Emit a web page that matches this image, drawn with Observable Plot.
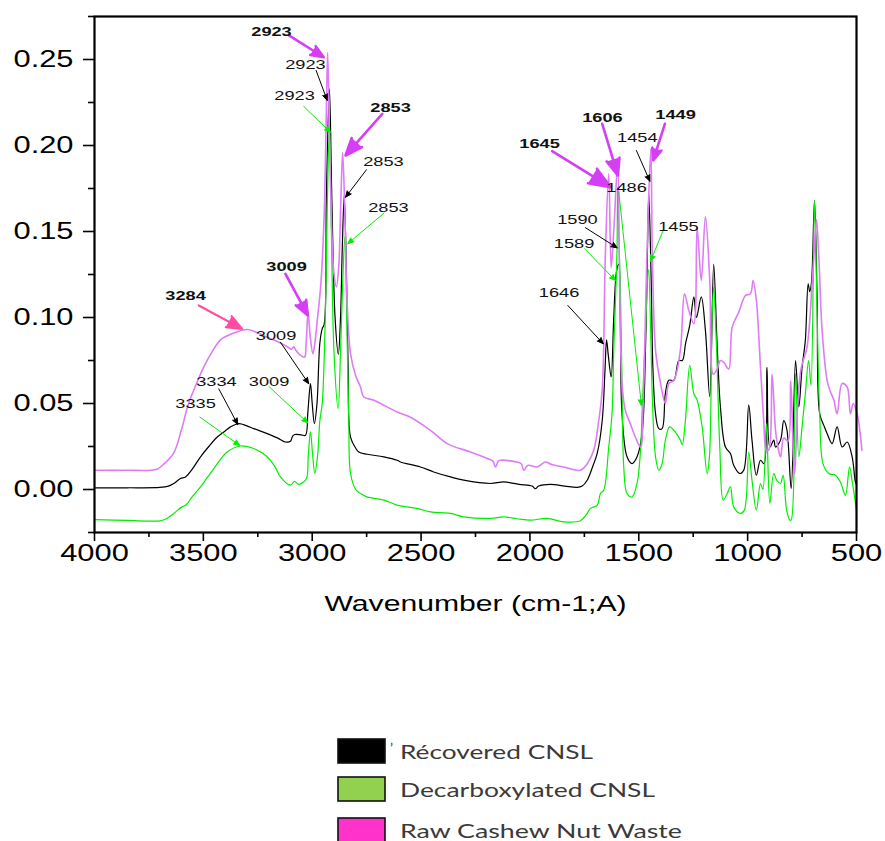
<!DOCTYPE html>
<html>
<head>
<meta charset="utf-8">
<script src="https://cdn.jsdelivr.net/npm/d3@7"></script>
<script src="https://cdn.jsdelivr.net/npm/@observablehq/plot@0.6"></script>
<style>
  html, body { margin: 0; padding: 0; background: #fff; }
  #page { position: relative; width: 885px; height: 841px; overflow: hidden; background: #fff; }
  #chart { position: absolute; left: 0; top: 0; }
  #legend { position: absolute; left: 0; top: 0; }
</style>
</head>
<body>
<div id="page"><div id="chart"></div><svg id="legend" width="885" height="841"></svg></div>
<script>
// ---------------- DATA ----------------
const seriesNames = ["Récovered CNSL", "Decarboxylated CNSL", "Raw Cashew Nut Waste"];

// [wavenumber cm-1, absorbance]
const recovered = [[4000,0.001],[3850,0.001],[3700,0.0012],[3660,0.002],[3636,0.0035],[3605,0.0064],[3582,0.0073],[3550,0.012],[3513,0.019],[3475,0.025],[3436,0.0305],[3400,0.034],[3375,0.0364],[3337,0.0383],[3300,0.037],[3268,0.0354],[3207,0.0325],[3160,0.030],[3123,0.0276],[3100,0.028],[3090,0.031],[3080,0.032],[3050,0.0318],[3031,0.0315],[3020,0.045],[3008,0.0616],[3000,0.05],[2990,0.0383],[2978,0.05],[2965,0.085],[2954,0.0935],[2945,0.096],[2935,0.17],[2921,0.233],[2910,0.17],[2895,0.1],[2880,0.0786],[2870,0.1],[2862,0.14],[2853,0.171],[2842,0.12],[2835,0.07],[2824,0.0305],[2800,0.024],[2786,0.0218],[2748,0.0205],[2671,0.019],[2610,0.017],[2595,0.016],[2503,0.0131],[2442,0.0102],[2365,0.0073],[2304,0.0054],[2181,0.0035],[2120,0.0044],[2050,0.003],[1990,0.002],[1975,0.0005],[1960,0.002],[1906,0.003],[1840,0.002],[1783,0.0012],[1760,0.002],[1737,0.0054],[1710,0.014],[1691,0.021],[1668,0.040],[1655,0.07],[1648,0.087],[1640,0.078],[1627,0.0654],[1615,0.1],[1602,0.127],[1592,0.131],[1585,0.1],[1577,0.044],[1554,0.019],[1531,0.015],[1508,0.019],[1485,0.0325],[1469,0.083],[1460,0.14],[1454,0.172],[1443,0.1215],[1435,0.07],[1423,0.044],[1408,0.0354],[1393,0.0354],[1378,0.0557],[1362,0.0635],[1339,0.0635],[1316,0.075],[1300,0.075],[1285,0.085],[1266,0.0954],[1247,0.112],[1235,0.100],[1213,0.112],[1194,0.0925],[1174,0.054],[1156,0.131],[1141,0.0867],[1125,0.048],[1102,0.0247],[1079,0.0209],[1064,0.0141],[1036,0.0093],[1018,0.0112],[995,0.049],[980,0.0287],[960,0.0083],[941,0.017],[925,0.015],[911,0.071],[898,0.0247],[880,0.0287],[872,0.0247],[849,0.0287],[834,0.040],[820,0.035],[800,0.0006],[780,0.075],[765,0.048],[750,0.071],[735,0.0867],[722,0.1196],[715,0.115],[707,0.12],[693,0.168],[681,0.112],[669,0.044],[650,0.0373],[635,0.0325],[612,0.0267],[589,0.0364],[566,0.0247],[543,0.0276],[520,0.019],[505,0.0044],[500,0.003]];

const decarboxylated = [[4000,-0.0175],[3850,-0.018],[3697,-0.0182],[3670,-0.017],[3636,-0.0139],[3598,-0.0101],[3580,-0.009],[3550,-0.004],[3513,0.0015],[3452,0.0122],[3391,0.0218],[3329,0.0253],[3268,0.0238],[3207,0.019],[3170,0.013],[3146,0.0073],[3100,0.0025],[3081,0.0048],[3065,0.003],[3046,0.0038],[3026,0.0064],[3018,0.02],[3008,0.0335],[2998,0.02],[2988,0.0093],[2975,0.02],[2965,0.04],[2954,0.050],[2940,0.1],[2930,0.17],[2921,0.212],[2912,0.15],[2900,0.08],[2881,0.047],[2870,0.08],[2860,0.12],[2850,0.147],[2840,0.09],[2832,0.04],[2824,0.0093],[2800,0.0],[2778,-0.0023],[2748,-0.0043],[2671,-0.0062],[2610,-0.0091],[2518,-0.011],[2457,-0.013],[2365,-0.0139],[2304,-0.0159],[2181,-0.0168],[2120,-0.0159],[2060,-0.017],[1997,-0.0178],[1921,-0.0168],[1845,-0.0188],[1768,-0.0182],[1737,-0.0139],[1722,-0.011],[1691,-0.0091],[1676,-0.0023],[1661,-0.0004],[1638,0.0247],[1623,0.044],[1615,0.081],[1607,0.11],[1600,0.14],[1597,0.176],[1590,0.14],[1585,0.1196],[1577,0.0616],[1569,0.0131],[1554,-0.0023],[1531,-0.0043],[1508,0.0035],[1492,0.0228],[1485,0.044],[1470,0.09],[1455,0.128],[1445,0.09],[1438,0.054],[1423,0.019],[1408,0.0112],[1393,0.015],[1378,0.0286],[1358,0.0364],[1330,0.033],[1309,0.0287],[1300,0.026],[1286,0.040],[1266,0.0722],[1247,0.0557],[1232,0.052],[1209,0.0364],[1186,0.0093],[1175,0.02],[1163,0.102],[1156,0.1177],[1143,0.0828],[1128,0.0247],[1112,-0.0062],[1094,-0.0023],[1079,0.0015],[1064,-0.0101],[1033,-0.0139],[1015,-0.012],[995,0.0218],[980,0.0054],[960,-0.012],[941,0.0035],[930,0.0],[914,0.0383],[898,-0.0081],[880,0.0093],[865,0.005],[849,0.0035],[837,0.0083],[821,-0.012],[806,-0.0178],[800,-0.0178],[780,0.0674],[765,0.019],[750,0.0364],[735,0.0557],[720,0.075],[709,0.0606],[693,0.168],[681,0.102],[669,0.044],[654,0.015],[628,0.0093],[597,0.0083],[574,0.0044],[551,-0.0033],[532,0.0131],[520,0.005],[500,-0.012]];

const rawWaste = [[4000,0.0112],[3850,0.0112],[3713,0.0118],[3680,0.015],[3637,0.021],[3600,0.035],[3568,0.050],[3530,0.062],[3499,0.071],[3460,0.080],[3421,0.087],[3360,0.091],[3297,0.093],[3250,0.091],[3206,0.0885],[3160,0.086],[3114,0.083],[3095,0.0815],[3085,0.083],[3075,0.081],[3054,0.078],[3035,0.077],[3028,0.085],[3019,0.103],[3010,0.09],[2997,0.079],[2988,0.085],[2977,0.098],[2960,0.12],[2945,0.16],[2935,0.22],[2929,0.254],[2920,0.2],[2910,0.15],[2900,0.125],[2889,0.1177],[2878,0.13],[2868,0.17],[2860,0.196],[2850,0.16],[2840,0.11],[2824,0.079],[2800,0.066],[2778,0.0596],[2763,0.0538],[2719,0.052],[2686,0.05],[2610,0.045],[2549,0.042],[2457,0.0344],[2380,0.0267],[2273,0.0218],[2196,0.018],[2170,0.0165],[2158,0.0131],[2145,0.0165],[2135,0.017],[2059,0.016],[2040,0.015],[2028,0.0112],[2010,0.014],[1967,0.0131],[1929,0.016],[1900,0.0145],[1845,0.0131],[1768,0.0112],[1737,0.015],[1707,0.0228],[1684,0.040],[1668,0.0577],[1653,0.139],[1638,0.1835],[1627,0.129],[1615,0.15],[1597,0.189],[1588,0.1196],[1577,0.0616],[1562,0.046],[1539,0.0383],[1516,0.0305],[1492,0.0247],[1480,0.05],[1462,0.139],[1445,0.198],[1438,0.139],[1423,0.081],[1400,0.0616],[1378,0.050],[1362,0.0616],[1339,0.0635],[1309,0.081],[1290,0.1138],[1270,0.104],[1247,0.0964],[1232,0.1525],[1213,0.1215],[1194,0.1587],[1174,0.1215],[1158,0.067],[1140,0.07],[1125,0.075],[1110,0.074],[1087,0.070],[1071,0.0944],[1041,0.103],[1010,0.1128],[987,0.1138],[975,0.1215],[960,0.110],[941,0.071],[926,0.040],[914,0.0228],[903,0.023],[888,0.067],[872,0.0345],[860,0.024],[849,0.019],[834,0.030],[815,0.028],[802,0.063],[790,0.02],[784,0.009],[770,0.05],[755,0.07],[727,0.083],[704,0.1196],[696,0.135],[684,0.157],[673,0.135],[658,0.0925],[635,0.0635],[620,0.057],[604,0.052],[589,0.044],[566,0.0616],[543,0.0596],[528,0.044],[515,0.050],[497,0.044],[475,0.0228]];

// axis ticks
const xMajor = [4000, 3500, 3000, 2500, 2000, 1500, 1000, 500];
const xMinor = [3750, 3250, 2750, 2250, 1750, 1250, 750];
const yMajor = [0, 0.05, 0.10, 0.15, 0.20, 0.25];
const yMinor = [-0.025, 0.025, 0.075, 0.125, 0.175, 0.225, 0.275];
const xTitle = ["Wavenumber (cm-1;A)"];

// peak annotations (label position x,y ; arrow from x1,y1 to tip x2,y2), in data units
const boldNotes = [
  {text: "2923", x: 3187, y: 0.2663, x1: 3107, y1: 0.2640, x2: 2947, y2: 0.2513},
  {text: "2853", x: 2640, y: 0.2221, x1: 2678, y1: 0.2184, x2: 2847, y2: 0.1942},
  {text: "3009", x: 3118, y: 0.1297, x1: 3123, y1: 0.1254, x2: 3020, y2: 0.1012},
  {text: "1645", x: 1956, y: 0.2012, x1: 1898, y1: 0.1967, x2: 1630, y2: 0.1758},
  {text: "1606", x: 1667, y: 0.2163, x1: 1668, y1: 0.2126, x2: 1596, y2: 0.1826},
  {text: "1449", x: 1331, y: 0.2180, x1: 1380, y1: 0.2126, x2: 1434, y2: 0.1913}
];
const pinkNotes = [
  {text: "3284", x: 3582, y: 0.1128, x1: 3521, y1: 0.1070, x2: 3322, y2: 0.0934}
];
const blackNotes = [
  {text: "2923", x: 3031, y: 0.2471, x1: 2982, y1: 0.2436, x2: 2931, y2: 0.2262},
  {text: "2853", x: 2673, y: 0.1907, x1: 2751, y1: 0.1859, x2: 2847, y2: 0.1699},
  {text: "3009", x: 3166, y: 0.0895, x1: 3146, y1: 0.0856, x2: 3016, y2: 0.0615},
  {text: "3334", x: 3440, y: 0.0624, x1: 3429, y1: 0.0585, x2: 3342, y2: 0.0378},
  {text: "1646", x: 1866, y: 0.1142, x1: 1826, y1: 0.1070, x2: 1663, y2: 0.0847},
  {text: "1590", x: 1782, y: 0.1567, x1: 1745, y1: 0.1522, x2: 1599, y2: 0.1405},
  {text: "1454", x: 1507, y: 0.2044, x1: 1511, y1: 0.1971, x2: 1449, y2: 0.1792}
];
const greenNotes = [
  {text: "2923", x: 3081, y: 0.2291, x1: 3039, y1: 0.2227, x2: 2916, y2: 0.2077},
  {text: "2853", x: 2650, y: 0.1640, x1: 2671, y1: 0.1606, x2: 2837, y2: 0.1429},
  {text: "3009", x: 3198, y: 0.0624, x1: 3199, y1: 0.0599, x2: 3020, y2: 0.0387},
  {text: "3335", x: 3536, y: 0.0500, x1: 3516, y1: 0.0421, x2: 3333, y2: 0.0256},
  {text: "1589", x: 1797, y: 0.1429, x1: 1749, y1: 0.1400, x2: 1607, y2: 0.1215},
  {text: "1486", x: 1556, y: 0.1753, x1: 1592, y1: 0.1733, x2: 1488, y2: 0.0488},
  {text: "1455", x: 1318, y: 0.1529, x1: 1388, y1: 0.1506, x2: 1446, y2: 0.1327}
];

// ---------------- CHART ----------------
const toRows = arr => arr.map(([wn, a]) => ({wn, a}));
const C = {black: "#000000", green: "#00ee00", violet: "#dd7cf5", boldArrow: "#d63ef5", pink: "#ff4da3"};

const svg = Plot.plot({
  width: 885,
  height: 650,
  marginLeft: 94,
  marginRight: 29,
  marginTop: 16,
  marginBottom: 118,
  style: {fontFamily: "'Liberation Sans', Arial, sans-serif", background: "white", color: "black"},
  x: {domain: [4000, 500], label: null},
  y: {domain: [-0.025, 0.275], label: null},
  marks: [
    Plot.axisX({ticks: xMajor, tickSize: 9, tickPadding: 3, fontSize: 23, strokeWidth: 1.6, tickFormat: d => String(d), label: null}),
    Plot.axisX({ticks: xMinor, tickSize: 5, strokeWidth: 1.6, tickFormat: () => "", label: null}),
    Plot.axisY({ticks: yMajor, tickSize: 11, tickPadding: 10, fontSize: 23, strokeWidth: 1.6, tickFormat: d => d.toFixed(2), label: null}),
    Plot.axisY({ticks: yMinor, tickSize: 6, strokeWidth: 1.6, tickFormat: () => "", label: null}),
    Plot.line(toRows(recovered), {x: "wn", y: "a", stroke: C.black, strokeWidth: 1.2, curve: "catmull-rom"}),
    Plot.line(toRows(decarboxylated), {x: "wn", y: "a", stroke: C.green, strokeWidth: 1.2, curve: "catmull-rom"}),
    Plot.line(toRows(rawWaste), {x: "wn", y: "a", stroke: C.violet, strokeWidth: 1.6, curve: "catmull-rom"}),
    Plot.frame({stroke: "black", strokeWidth: 2.2}),
    Plot.arrow(boldNotes, {x1: "x1", y1: "y1", x2: "x2", y2: "y2", stroke: C.boldArrow, fill: C.boldArrow, strokeWidth: 2.6, headLength: 14, headAngle: 44}),
    Plot.arrow(pinkNotes, {x1: "x1", y1: "y1", x2: "x2", y2: "y2", stroke: C.pink, fill: C.pink, strokeWidth: 2.2, headLength: 13, headAngle: 44}),
    Plot.arrow(blackNotes, {x1: "x1", y1: "y1", x2: "x2", y2: "y2", stroke: C.black, fill: C.black, strokeWidth: 1, headLength: 10, headAngle: 46}),
    Plot.arrow(greenNotes, {x1: "x1", y1: "y1", x2: "x2", y2: "y2", stroke: C.green, fill: C.green, strokeWidth: 1, headLength: 10, headAngle: 46}),
    Plot.text(boldNotes.concat(pinkNotes), {x: "x", y: "y", text: "text", fontSize: 13, fontWeight: "bold", fill: "#111"}),
    Plot.text(blackNotes.concat(greenNotes), {x: "x", y: "y", text: "text", fontSize: 13, fill: "#111"}),
    Plot.text(xTitle, {frameAnchor: "bottom", dy: 78, fontSize: 22.5, fill: "black"})
  ]
});
document.getElementById("chart").append(svg);

// the reference figure is horizontally stretched: widen glyphs accordingly
svg.querySelectorAll("text").forEach(t => {
  if (!t.textContent.trim()) return;
  const size = parseFloat(getComputedStyle(t).fontSize) || 13;
  const stretch = size > 20 ? 1.34 : 1.4;
  const len = t.getComputedTextLength();
  t.setAttribute("textLength", (len * stretch).toFixed(1));
  t.setAttribute("lengthAdjust", "spacingAndGlyphs");
});

// ---------------- LEGEND ----------------
const legendColors = ["#000000", "#92d050", "#ff33cc"];
const legendWidths = [193, 255, 282];
const lg = d3.select("#legend");
const rowsY = [739, 777, 818];
seriesNames.forEach((name, i) => {
  lg.append("rect").attr("x", 338).attr("y", rowsY[i]).attr("width", 47).attr("height", 24)
    .attr("fill", legendColors[i]).attr("stroke", "#111").attr("stroke-width", 1.6);
  lg.append("text").attr("x", 400).attr("y", rowsY[i] + 20)
    .attr("font-family", "Lato, 'Open Sans', sans-serif").attr("font-size", 20).attr("fill", "#3a3a3a")
    .attr("textLength", legendWidths[i]).attr("lengthAdjust", "spacingAndGlyphs")
    .text(name);
});
lg.append("text").attr("x", 390).attr("y", 753).attr("font-family", "Lato, sans-serif")
  .attr("font-size", 14).attr("fill", "#3a3a3a").text("’");
</script>
</body>
</html>
